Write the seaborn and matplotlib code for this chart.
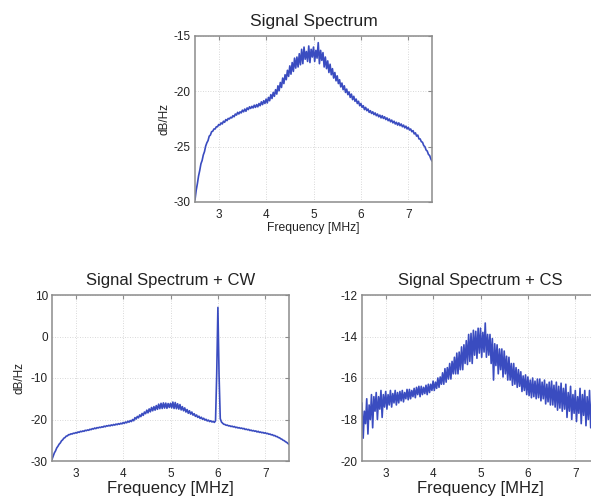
import numpy as np
import matplotlib
matplotlib.use("Agg")
import matplotlib.pyplot as plt
import seaborn as sns

# Frequency grid of the spectrum estimate (MHz), 0.025 MHz bins
freq_mhz = np.round(np.arange(2.5, 7.5001, 0.025), 3)

# Power spectral density of the received signal alone (dB/Hz)
signal_db = [
    -29.8, -28.95, -28.35, -27.65, -27.15, -26.55, -26.25, -25.75, -25.45, -24.95,
    -24.65, -24.45, -24.05, -23.95, -23.65, -23.6, -23.4, -23.4, -23.2, -23.2,
    -23.0, -23.05, -22.85, -22.95, -22.7, -22.8, -22.55, -22.65, -22.45, -22.5,
    -22.35, -22.4, -22.2, -22.3, -22.05, -22.15, -21.9, -22.05, -21.85, -21.95,
    -21.7, -21.85, -21.6, -21.8, -21.5, -21.65, -21.4, -21.55, -21.35, -21.5,
    -21.25, -21.45, -21.2, -21.4, -21.1, -21.3, -20.95, -21.2, -20.85, -21.1,
    -20.7, -21.05, -20.55, -20.85, -20.3, -20.65, -20.1, -20.45, -19.85, -20.25,
    -19.5, -19.95, -19.2, -19.65, -18.8, -19.3, -18.5, -18.95, -18.1, -18.65,
    -17.7, -18.45, -17.4, -18.2, -17.0, -17.9, -16.9, -17.8, -16.6, -17.6,
    -16.2, -17.5, -16.0, -17.1, -16.4, -17.3, -15.9, -17.4, -16.2, -16.9,
    -16.0, -17.3, -16.3, -17.0, -15.6, -17.5, -16.3, -17.2, -16.5, -17.8,
    -16.9, -17.95, -17.25, -18.3, -17.55, -18.5, -17.95, -18.8, -18.3, -19.05,
    -18.6, -19.3, -18.95, -19.6, -19.25, -19.85, -19.5, -20.1, -19.8, -20.3,
    -20.05, -20.55, -20.25, -20.75, -20.45, -20.9, -20.7, -21.1, -20.9, -21.3,
    -21.1, -21.45, -21.3, -21.65, -21.45, -21.75, -21.6, -21.9, -21.75, -22.0,
    -21.85, -22.1, -21.95, -22.2, -22.05, -22.3, -22.15, -22.4, -22.2, -22.45,
    -22.3, -22.55, -22.4, -22.65, -22.5, -22.75, -22.6, -22.85, -22.7, -22.95,
    -22.8, -23.05, -22.85, -23.1, -22.95, -23.2, -23.05, -23.3, -23.15, -23.4,
    -23.25, -23.5, -23.4, -23.65, -23.55, -23.85, -23.75, -24.05, -23.95, -24.3,
    -24.3, -24.55, -24.6, -24.9, -25.0, -25.3, -25.4, -25.7, -25.8, -26.1,
    -26.3,
]

# Signal plus a continuous-wave tone at 6 MHz (dB/Hz)
signal_cw_db = [
    -29.6, -28.85, -28.05, -27.55, -26.85, -26.45, -25.95, -25.65, -25.15, -24.9,
    -24.5, -24.35, -24.0, -23.95, -23.65, -23.65, -23.45, -23.5, -23.3, -23.35,
    -23.15, -23.25, -23.0, -23.1, -22.85, -22.95, -22.75, -22.85, -22.6, -22.7,
    -22.5, -22.6, -22.35, -22.45, -22.2, -22.3, -22.05, -22.2, -21.95, -22.05,
    -21.85, -21.95, -21.75, -21.85, -21.6, -21.75, -21.5, -21.6, -21.4, -21.55,
    -21.3, -21.45, -21.2, -21.35, -21.1, -21.25, -21.0, -21.15, -20.9, -21.05,
    -20.75, -20.95, -20.6, -20.8, -20.4, -20.65, -20.25, -20.5, -20.0, -20.3,
    -19.55, -19.9, -19.25, -19.6, -18.9, -19.3, -18.55, -19.0, -18.2, -18.6,
    -17.75, -18.4, -17.45, -18.15, -17.1, -17.9, -16.9, -17.75, -16.65, -17.55,
    -16.3, -17.4, -16.1, -17.35, -16.0, -17.25, -16.05, -17.3, -16.15, -17.1,
    -16.1, -17.2, -15.8, -17.35, -15.9, -17.4, -16.2, -17.5, -16.4, -17.7,
    -16.9, -17.9, -17.2, -18.2, -17.6, -18.5, -17.9, -18.7, -18.2, -18.95,
    -18.6, -19.25, -18.9, -19.5, -19.2, -19.75, -19.45, -19.95, -19.7, -20.15,
    -19.95, -20.35, -20.15, -20.5, -20.3, -20.6, -20.45, -20.7, -20.3, -9.0,
    7.0, -9.5, -19.8, -20.6, -20.9, -21.15, -21.2, -21.4, -21.35, -21.55,
    -21.5, -21.7, -21.6, -21.8, -21.7, -21.95, -21.85, -22.05, -21.95, -22.15,
    -22.05, -22.25, -22.15, -22.4, -22.3, -22.5, -22.4, -22.65, -22.55, -22.75,
    -22.65, -22.85, -22.75, -23.0, -22.85, -23.1, -23.0, -23.2, -23.1, -23.3,
    -23.2, -23.4, -23.35, -23.55, -23.5, -23.7, -23.65, -23.9, -23.85, -24.1,
    -24.1, -24.35, -24.4, -24.65, -24.75, -25.0, -25.1, -25.35, -25.5, -25.75,
    -26.0,
]

# Signal plus a chirp/spread interferer (dB/Hz)
signal_cs_db = [
    -17.2, -18.9, -17.6, -18.2, -17.0, -18.7, -17.3, -18.0, -16.8, -18.4,
    -16.9, -17.6, -16.7, -18.0, -16.9, -17.5, -16.6, -17.9, -16.8, -17.4,
    -16.65, -17.5, -16.8, -17.3, -16.6, -17.4, -16.75, -17.2, -16.6, -17.3,
    -16.7, -17.2, -16.65, -17.1, -16.6, -17.15, -16.7, -17.0, -16.55, -17.05,
    -16.55, -17.0, -16.6, -16.9, -16.5, -16.95, -16.45, -16.8, -16.4, -16.9,
    -16.4, -16.8, -16.45, -16.75, -16.35, -16.8, -16.3, -16.7, -16.3, -16.6,
    -16.15, -16.6, -16.2, -16.5, -16.0, -16.45, -15.95, -16.3, -15.75, -16.3,
    -15.55, -16.2, -15.5, -16.05, -15.3, -16.05, -15.2, -15.8, -15.0, -15.8,
    -14.8, -15.8, -14.75, -15.6, -14.5, -15.6, -14.4, -15.3, -14.2, -15.35,
    -13.9, -15.2, -13.85, -15.3, -13.7, -14.9, -13.75, -15.05, -13.6, -14.8,
    -13.6, -15.0, -13.8, -14.75, -13.35, -15.0, -13.9, -14.9, -13.9, -15.3,
    -14.1, -16.1, -14.35, -15.4, -14.4, -15.8, -14.6, -15.6, -14.6, -15.95,
    -14.7, -15.8, -14.95, -16.1, -15.0, -16.1, -15.3, -16.35, -15.3, -16.3,
    -15.5, -16.45, -15.6, -16.4, -15.7, -16.65, -15.9, -16.6, -15.85, -16.8,
    -15.95, -16.85, -16.1, -16.95, -16.0, -16.9, -16.15, -17.0, -16.05, -16.95,
    -16.05, -17.1, -16.2, -17.0, -16.1, -17.25, -16.3, -17.15, -16.2, -17.3,
    -16.15, -17.3, -16.35, -17.4, -16.2, -17.55, -16.4, -17.45, -16.25, -17.6,
    -16.5, -17.5, -16.3, -17.9, -16.7, -17.6, -16.4, -18.0, -16.8, -17.7,
    -16.6, -18.1, -16.9, -17.7, -16.5, -18.2, -16.8, -17.8, -16.6, -18.3,
    -16.9, -18.0, -16.6, -18.4, -17.0, -18.1, -16.7, -18.5, -16.9, -18.2,
    -17.5,
]

titles = ["Signal Spectrum", "Signal Spectrum + CW", "Signal Spectrum + CS"]
y_limits = [(-30, -15), (-30, 10), (-20, -12)]
y_ticks = [[-30, -25, -20, -15], [-30, -20, -10, 0, 10], [-20, -18, -16, -14, -12]]
x_ticks = [3, 4, 5, 6, 7]

sns.set_theme(style="white")
plt.rcParams["font.family"] = ["Liberation Sans", "DejaVu Sans"]
plt.rcParams["axes.unicode_minus"] = False

LINE = "#3a4cc0"
FRAME = "#8c8c8c"
TEXT = "#222222"

fig = plt.figure(figsize=(5.91, 4.96), dpi=100, facecolor="white")
W, H = 591.0, 496.0
boxes = [  # left, top, right, bottom in pixels
    (195, 36, 432, 202),
    (52, 295, 289, 461),
    (362, 295, 599, 461),
]
axes = []
for (l, t, r, b) in boxes:
    axes.append(fig.add_axes([l / W, 1 - b / H, (r - l) / W, (b - t) / H]))

series = [signal_db, signal_cw_db, signal_cs_db]
for i, (ax, vals) in enumerate(zip(axes, series)):
    sns.lineplot(x=freq_mhz, y=vals, ax=ax, color=LINE, linewidth=1.2,
                 estimator=None, sort=False)
    ax.set_xlim(2.5, 7.5)
    ax.set_ylim(*y_limits[i])
    ax.set_xticks(x_ticks)
    ax.set_yticks(y_ticks[i])
    ax.grid(True, color="#cccccc", linestyle=(0, (1, 2)), linewidth=0.6)
    ax.tick_params(direction="in", length=3, width=0.8, color=FRAME,
                   top=True, right=True, labelsize=8.5, labelcolor=TEXT,
                   pad=3)
    ax.tick_params(axis="x", pad=5)
    for sp in ax.spines.values():
        sp.set_color(FRAME)
        sp.set_linewidth(1.1)
        sp.set_visible(True)
    ax.set_facecolor("white")
    ax.set_title(titles[i], fontsize=12 if i else 12.5, color=TEXT, pad=7)

axes[0].set_xlabel("Frequency [MHz]", fontsize=8.7, color=TEXT, labelpad=1)
axes[0].set_ylabel("dB/Hz", fontsize=8.5, color=TEXT)
axes[0].yaxis.set_label_coords(-0.105, 0.5)
axes[1].set_xlabel("Frequency [MHz]", fontsize=12, color=TEXT, labelpad=1)
axes[1].set_ylabel("dB/Hz", fontsize=8.5, color=TEXT)
axes[1].yaxis.set_label_coords(-0.11, 0.5)
axes[2].set_xlabel("Frequency [MHz]", fontsize=12, color=TEXT, labelpad=1)
axes[2].set_ylabel("")

fig.savefig("out.png", dpi=100, facecolor="white")
